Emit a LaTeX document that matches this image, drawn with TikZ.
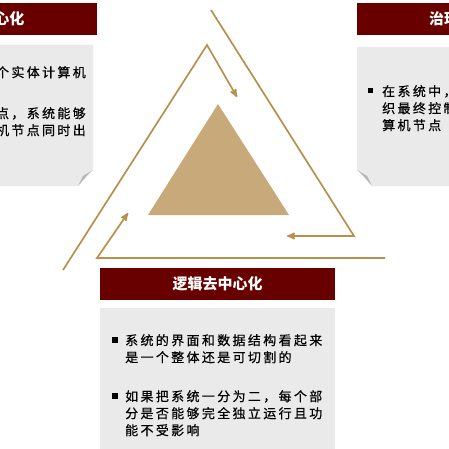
\documentclass[tikz,border=0pt]{standalone}
\usepackage{fontspec}
\usepackage{tikz}
\usetikzlibrary{arrows}
\usetikzlibrary{positioning}
\newfontfamily\cjk{Noto Sans CJK SC}
\newfontfamily\cjksp{Noto Sans CJK SC}[LetterSpace=18,FakeBold=0.5]
\definecolor{hdred}{HTML}{680000}
\definecolor{bodygray}{HTML}{EAEAEA}
\definecolor{foldgray}{HTML}{B4B4B4}
\definecolor{pyramid}{HTML}{C7A97A}
\definecolor{goldline}{HTML}{B8904E}

\begin{document}
\begin{tikzpicture}[x=1pt,y=-1pt,
                    >=stealth',
                    flow/.style={->,draw=goldline,line width=1.7pt},
                    hdr/.style={rectangle,fill=hdred,text=white,minimum width=235pt,minimum height=32pt,inner sep=0pt,
                                font=\cjk\bfseries\fontsize{15}{17}\selectfont},
                    ttl/.style={text=white,inner sep=0pt,font=\cjk\bfseries\fontsize{15}{17}\selectfont},
                    txt/.style={inner sep=0pt,align=left,font=\cjksp\fontsize{13}{17}\selectfont},
                    txtr/.style={txt,align=right},
                    dot/.style={rectangle,fill=black,inner sep=0pt,minimum size=5.5pt}
                    %fold/.style={fill=foldgray}
                    ]
  \useasboundingbox (0,0) rectangle (449,449);
  \clip (0,0) rectangle (449,449);
  % text boxes
  \fill[bodygray] (-137,45) -- (93,45) -- (93,170) -- (78,186) -- (-137,186) -- cycle;
  \fill[foldgray] (93,170) .. controls (88,174) .. (78,186) -- (83,176) -- cycle;
  \fill[bodygray] (357,47) -- (600,47) -- (600,186) -- (372,186) -- (357,170) -- cycle;
  \fill[foldgray] (357,170) .. controls (362,174) .. (372,186) -- (367,176) -- cycle;
  \fill[bodygray] (100,308) rectangle (335,460);
  \node[hdr] (arch) at (-21,19) {};
  \node[ttl,anchor=east] (archt) at (24.5,19) {心化};
  \node[hdr] (govn) at (474.5,19) {};
  \node[ttl,anchor=west] (govnt) at (429,19) {治理};
  \node[hdr] (logic) at (217.5,284) {逻辑去中心化};
  % cycle of arrows
  \coordinate (r1) at (211,10);
  \coordinate (r2) at (354,236);
  \coordinate (r3) at (287,236);
  \coordinate (l1) at (63,270);
  \coordinate (l2) at (207,45);
  \coordinate (l3) at (237,97);
  \coordinate (b1) at (385,258);
  \coordinate (b2) at (97,258);
  \coordinate (b3) at (128,213);
  \draw[flow] (r1) -- (r2) -- (r3);
  \draw[flow] (l1) -- (l2) -- (l3);
  \draw[flow] (b1) -- (b2) -- (b3);
  \coordinate (top) at (218,104);
  \coordinate (bl) at (148,215);
  \coordinate (br) at (289,215);
  \fill[pyramid] (top) -- (bl) -- (br) -- cycle;
  % texts
  \node[txtr,anchor=north east] (arch1) at (86,66) {个实体计算机};
  \node[txtr,anchor=north east] (arch2) at (86,107) {点，系统能够\\机节点同时出};
  \node[dot] (govnd) at (370.5,90.5) {};
  \node[txt,anchor=north west] (govn1) at (382,85) {在系统中，\\织最终控制\\算机节点};
  \node[dot] (logicd1) at (115,340) {};
  \node[txt,anchor=north west] (logic1) at (125,334) {系统的界面和数据结构看起来\\是一个整体还是可切割的};
  \node[dot] (logicd2) at (115,396) {};
  \node[txt,anchor=north west] (logic2) at (125,390) {如果把系统一分为二，每个部\\分是否能够完全独立运行且功\\能不受影响};
\end{tikzpicture}
\end{document}
